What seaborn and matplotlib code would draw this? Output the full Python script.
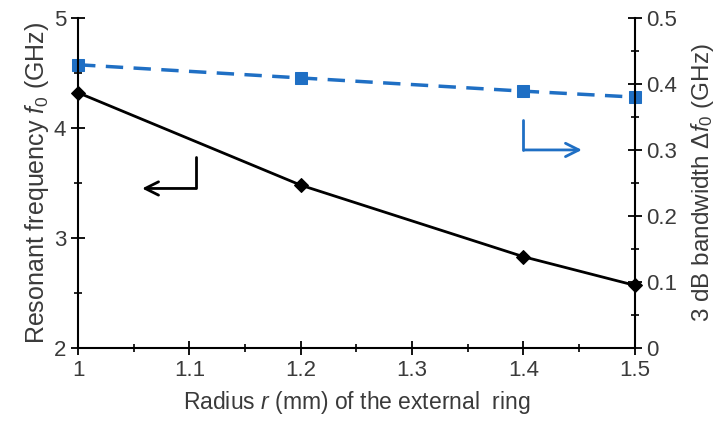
"""
Resonant frequency and 3 dB bandwidth vs radius of the external ring.
"""

import matplotlib
matplotlib.use('Agg')
import matplotlib.pyplot as plt
from matplotlib.ticker import MultipleLocator
import pandas as pd
import seaborn as sns

# Data
radius = [1.0, 1.2, 1.4, 1.5]
freq_ghz = [4.32, 3.48, 2.83, 2.57]
bandwidth_ghz = [0.429, 0.409, 0.389, 0.380]

x_ticks = [1, 1.1, 1.2, 1.3, 1.4, 1.5]
x_tick_labels = ['1', '1.1', '1.2', '1.3', '1.4', '1.5']
bw_ticks = [0, 0.1, 0.2, 0.3, 0.4, 0.5]
bw_tick_labels = ['0', '0.1', '0.2', '0.3', '0.4', '0.5']

BLUE = '#1f6fc4'
TEXT = '#3a3a3a'
NARROW = ['Liberation Sans Narrow', 'Liberation Sans', 'DejaVu Sans']


def main():
    sns.set_theme(style='white')
    plt.rcParams['font.family'] = ['Liberation Sans', 'DejaVu Sans']
    plt.rcParams['mathtext.fontset'] = 'custom'
    plt.rcParams['mathtext.rm'] = 'Liberation Sans'
    plt.rcParams['mathtext.it'] = 'Liberation Sans:italic'

    df = pd.DataFrame({'r': radius, 'f0': freq_ghz, 'bw': bandwidth_ghz})

    fig = plt.figure(figsize=(7.23, 4.25), dpi=100)
    ax = fig.add_axes([0.108, 0.181, 0.770, 0.777])
    ax2 = ax.twinx()

    sns.lineplot(data=df, x='r', y='f0', ax=ax, color='black', lw=2,
                 marker='D', markersize=7, markeredgecolor='black',
                 clip_on=False)
    sns.lineplot(data=df, x='r', y='bw', ax=ax2, color=BLUE, lw=2.5,
                 marker='s', markersize=8, markeredgecolor=BLUE,
                 dashes=False, linestyle=(0, (5, 3)), clip_on=False)

    ax.set_xlim(1, 1.5)
    ax.set_ylim(2, 5)
    ax2.set_ylim(0, 0.5)
    ax.xaxis.set_minor_locator(MultipleLocator(0.05))
    ax.yaxis.set_major_locator(MultipleLocator(1))
    ax.yaxis.set_minor_locator(MultipleLocator(0.5))
    ax2.yaxis.set_minor_locator(MultipleLocator(0.05))
    ax.set_xticks(x_ticks)
    ax.set_xticklabels(x_tick_labels)
    ax2.set_yticks(bw_ticks)
    ax2.set_yticklabels(bw_tick_labels)

    for a in (ax, ax2):
        for side in ('top', 'right', 'left', 'bottom'):
            a.spines[side].set_visible(False)
    ax.spines['left'].set_visible(True)
    ax.spines['bottom'].set_visible(True)
    ax2.spines['right'].set_visible(True)
    for sp in (ax.spines['left'], ax.spines['bottom'], ax2.spines['right']):
        sp.set_color('black')
        sp.set_linewidth(1.5)

    ax.tick_params(axis='both', which='major', direction='inout', length=10,
                   width=1.3, color='black', labelcolor=TEXT,
                   left=True, bottom=True)
    ax.tick_params(axis='both', which='minor', direction='inout', length=6,
                   width=1.2, color='black', left=True, bottom=True)
    ax2.tick_params(axis='y', which='major', direction='inout', length=10,
                    width=1.3, color='black', labelcolor=TEXT, right=True)
    ax2.tick_params(axis='y', which='minor', direction='inout', length=6,
                    width=1.2, color='black', right=True)
    for lab in ax.get_xticklabels() + ax.get_yticklabels() + ax2.get_yticklabels():
        lab.set_family(NARROW)
        lab.set_fontsize(16)

    ax.set_xlabel(r'Radius $\mathit{r}$ (mm) of the external  ring',
                  fontsize=16.5, color=TEXT, labelpad=6, family=NARROW)
    ax.set_ylabel(r'Resonant frequency $\mathit{f}_0$ (GHz)',
                  fontsize=18, color=TEXT, labelpad=2)
    ax2.set_ylabel(r'3 dB bandwidth $\Delta\mathit{f}_0$ (GHz)',
                   fontsize=17.5, color=TEXT, labelpad=8)

    # Arrows pointing to the relevant axis
    ax.plot([1.106, 1.106], [3.74, 3.45], color='black', lw=2)
    ax.annotate('', xy=(1.055, 3.45), xytext=(1.108, 3.45),
                arrowprops=dict(arrowstyle='->,head_length=0.8,head_width=0.4',
                                color='black', lw=2))
    ax.plot([1.40, 1.40], [4.07, 3.80], color=BLUE, lw=2)
    ax.annotate('', xy=(1.455, 3.80), xytext=(1.398, 3.80),
                arrowprops=dict(arrowstyle='->,head_length=0.8,head_width=0.4',
                                color=BLUE, lw=2))

    ax.set_zorder(ax2.get_zorder() + 1)
    ax.patch.set_visible(False)
    ax2.patch.set_visible(True)

    fig.savefig('out.png', dpi=100, facecolor='white')
    plt.close(fig)


if __name__ == '__main__':
    main()
